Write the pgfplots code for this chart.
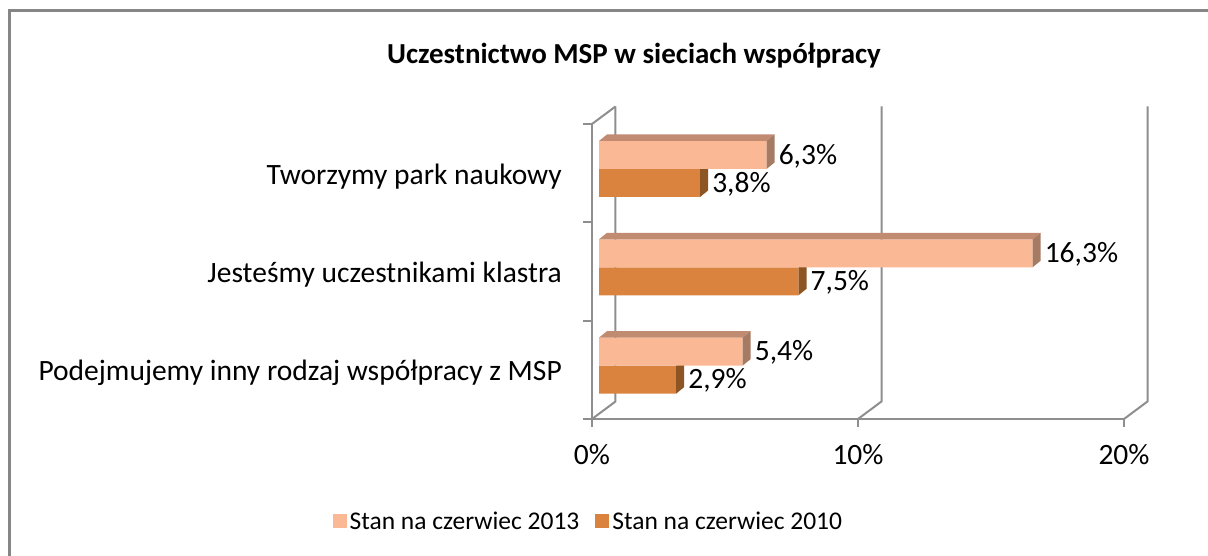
\documentclass[border=0pt]{standalone}
\usepackage{pgfplots}
\pgfplotsset{compat=1.18}
\usetikzlibrary{calc}
\usepackage{fontspec}
\setmainfont{Carlito}
\definecolor{lightf}{RGB}{250,184,148}
\definecolor{lightt}{RGB}{192,139,112}
\definecolor{lights}{RGB}{166,123,100}
\definecolor{darkf}{RGB}{218,131,63}
\definecolor{darks}{RGB}{141,85,36}
\definecolor{frame}{RGB}{142,142,142}
\definecolor{border}{RGB}{134,134,134}
\newcommand{\lbl}{\fontsize{29.5}{34}\selectfont}
\newcommand{\lgd}{\fontsize{25.5}{30}\selectfont}
\begin{document}
\begin{tikzpicture}[x=1pt,y=1pt]
\useasboundingbox (0,0) rectangle (1208,556);
\draw[border, line width=2.5pt] (9.5,545.5) rectangle (1240,-30);
\node[font=\fontsize{29}{34}\selectfont\bfseries, anchor=base] at (634,492) {Uczestnictwo MSP w sieciach współpracy};
% frame axis
\begin{axis}[
  at={(592pt,137pt)}, anchor=south west,
  scale only axis, width=532pt, height=295pt,
  xmin=0, xmax=20, ymin=0, ymax=3,
  clip=false,
  axis line style={draw=none},
  major tick length=0pt,
  xtick={0,10,20}, xticklabels={0\%,10\%,20\%},
  ytick={0.5,1.5,2.5},
  yticklabels={Podejmujemy inny rodzaj współpracy z MSP, Jesteśmy uczestnikami klastra, Tworzymy park naukowy},
  xticklabel style={font=\lbl, anchor=base, inner sep=0pt, yshift=-46pt},
  yticklabel style={font=\lbl, anchor=base east, inner sep=0pt, xshift=-30pt, yshift=-11pt},
  /pgf/number format/assume math mode=true,
]
\draw[frame, line width=2pt] (axis cs:0,0) -- (axis cs:0,3);
\draw[frame, line width=2pt] (axis cs:0,0) -- (axis cs:20,0);
\pgfplotsinvokeforeach{0,1,2,3}{\draw[frame, line width=2pt] (axis cs:0,#1) -- ++(-9pt,0);}
\pgfplotsinvokeforeach{0,10,20}{
  \draw[frame, line width=2pt] (axis cs:#1,0) -- ++(0,-8pt);
  \draw[frame, line width=2pt] (axis cs:#1,0) -- ++(23.5pt,17.5pt) -- ($(axis cs:#1,3)+(23.5pt,17.5pt)$);
}
\draw[frame, line width=2pt] (axis cs:0,3) -- ++(23.5pt,17.5pt);
\end{axis}
% bars axis
\begin{axis}[
  at={(599pt,141.2pt)}, anchor=south west,
  scale only axis, width=532pt, height=295pt,
  xmin=0, xmax=20, ymin=0, ymax=3,
  clip=false, hide axis,
  bar width=28pt,
  legend style={draw=none, fill=none, at={(-0.0190,-0.36)}, anchor=center,
    legend columns=2, font=\lgd,
    /tikz/every even column/.append style={column sep=13pt},
    nodes={inner sep=3pt}},
  reverse legend,
]
\addplot[xbar, bar shift=-14pt, fill=darkf, draw=none,
  legend image code/.code={\fill[darkf] (0pt,-7pt) rectangle (14pt,7pt);}]
  coordinates {(2.9,0.5) (7.5,1.5) (3.8,2.5)};
\addlegendentry{Stan na czerwiec 2010}
\fill[darks] (axis cs:2.9,0.5) -- ++(0,-28pt) -- ++(8pt,6.5pt) -- ++(0,28pt) -- cycle;
\fill[darks] (axis cs:7.5,1.5) -- ++(0,-28pt) -- ++(8pt,6.5pt) -- ++(0,28pt) -- cycle;
\fill[darks] (axis cs:3.8,2.5) -- ++(0,-28pt) -- ++(8pt,6.5pt) -- ++(0,28pt) -- cycle;
\addplot[xbar, bar shift=14pt, fill=lightf, draw=none,
  legend image code/.code={\fill[lightf] (0pt,-7pt) rectangle (14pt,7pt);}]
  coordinates {(5.4,0.5) (16.3,1.5) (6.3,2.5)};
\addlegendentry{Stan na czerwiec 2013}
\fill[lightt] ($(axis cs:0,0.5)+(0,28pt)$) -- ($(axis cs:5.4,0.5)+(0,28pt)$) -- ++(8pt,6.5pt) -- ($(axis cs:0,0.5)+(8pt,34.5pt)$) -- cycle;
\fill[lights] (axis cs:5.4,0.5) -- ++(0,28pt) -- ++(8pt,6.5pt) -- ++(0,-28pt) -- cycle;
\fill[lightt] ($(axis cs:0,1.5)+(0,28pt)$) -- ($(axis cs:16.3,1.5)+(0,28pt)$) -- ++(8pt,6.5pt) -- ($(axis cs:0,1.5)+(8pt,34.5pt)$) -- cycle;
\fill[lights] (axis cs:16.3,1.5) -- ++(0,28pt) -- ++(8pt,6.5pt) -- ++(0,-28pt) -- cycle;
\fill[lightt] ($(axis cs:0,2.5)+(0,28pt)$) -- ($(axis cs:6.3,2.5)+(0,28pt)$) -- ++(8pt,6.5pt) -- ($(axis cs:0,2.5)+(8pt,34.5pt)$) -- cycle;
\fill[lights] (axis cs:6.3,2.5) -- ++(0,28pt) -- ++(8pt,6.5pt) -- ++(0,-28pt) -- cycle;
% data labels
\node[font=\lbl, anchor=west, inner sep=0pt, xshift=12pt, yshift=13pt] at (axis cs:6.3,2.5) {6,3\%};
\node[font=\lbl, anchor=west, inner sep=0pt, xshift=12pt, yshift=-15pt] at (axis cs:3.8,2.5) {3,8\%};
\node[font=\lbl, anchor=west, inner sep=0pt, xshift=12pt, yshift=13pt] at (axis cs:16.3,1.5) {16,3\%};
\node[font=\lbl, anchor=west, inner sep=0pt, xshift=12pt, yshift=-15pt] at (axis cs:7.5,1.5) {7,5\%};
\node[font=\lbl, anchor=west, inner sep=0pt, xshift=12pt, yshift=13pt] at (axis cs:5.4,0.5) {5,4\%};
\node[font=\lbl, anchor=west, inner sep=0pt, xshift=12pt, yshift=-15pt] at (axis cs:2.9,0.5) {2,9\%};
\end{axis}
\end{tikzpicture}
\end{document}
